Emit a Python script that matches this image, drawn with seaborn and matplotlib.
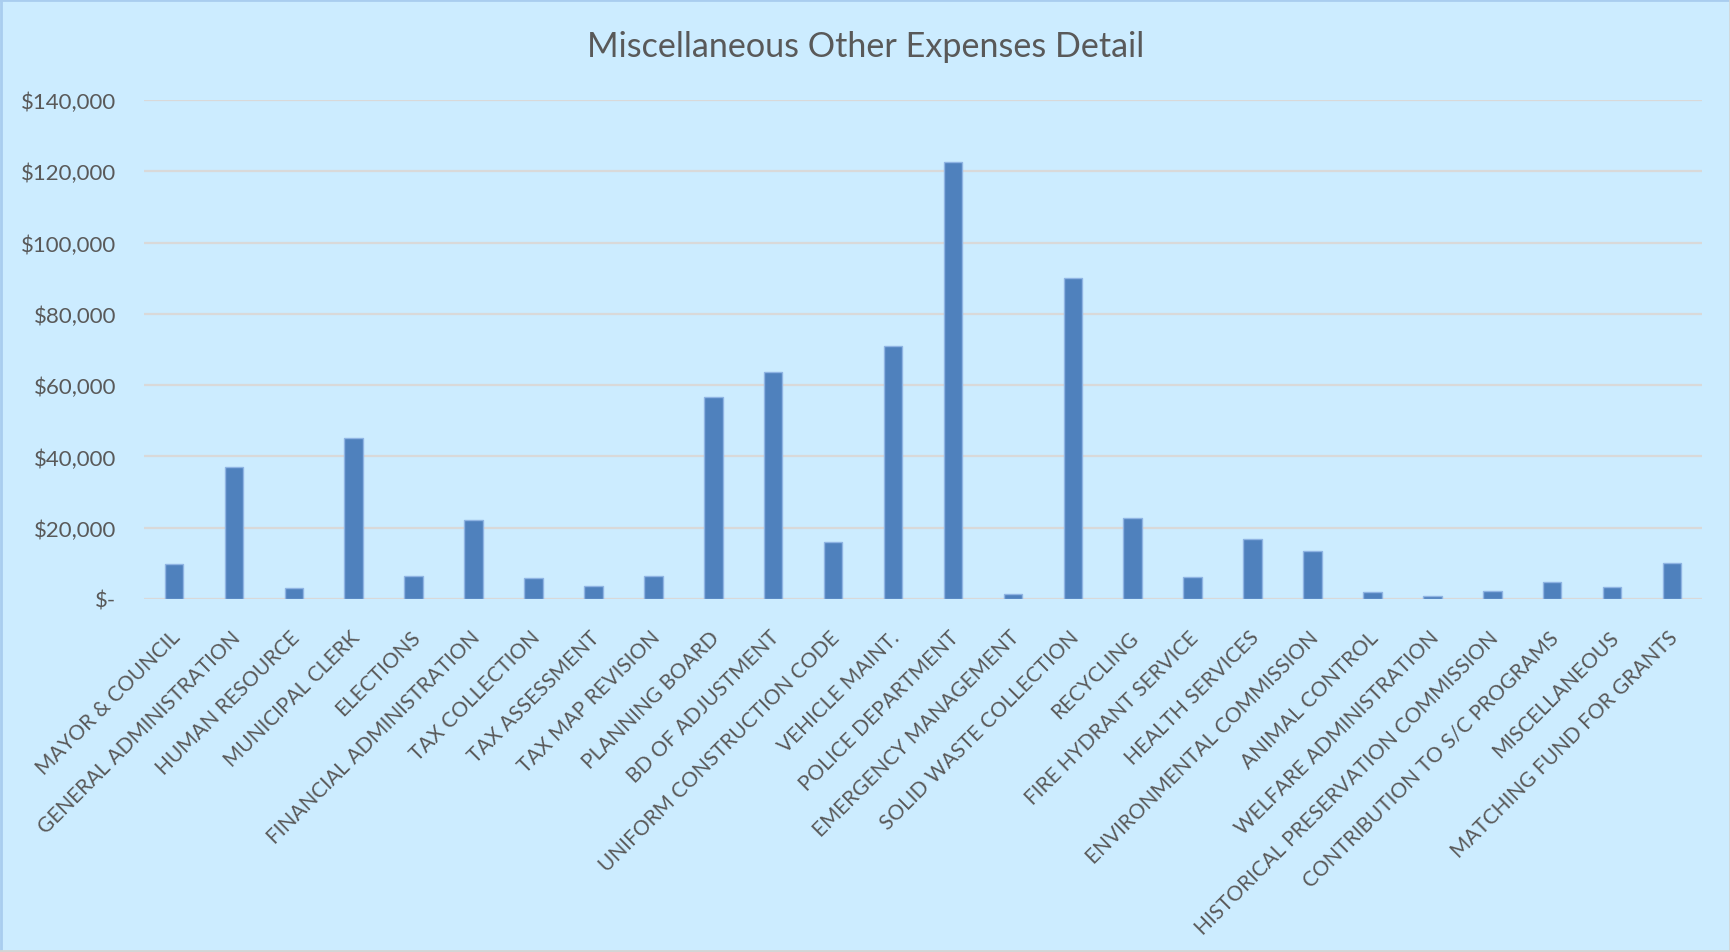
import matplotlib
matplotlib.use("Agg")
import matplotlib.pyplot as plt
from matplotlib.ticker import FuncFormatter, MultipleLocator
from matplotlib.lines import Line2D
from matplotlib.transforms import ScaledTranslation
import seaborn as sns
import pandas as pd

departments = [
    "MAYOR & COUNCIL", "GENERAL ADMINISTRATION", "HUMAN RESOURCE", "MUNICIPAL CLERK",
    "ELECTIONS", "FINANCIAL ADMINISTRATION", "TAX COLLECTION", "TAX ASSESSMENT",
    "TAX MAP REVISION", "PLANNING BOARD", "BD OF ADJUSTMENT", "UNIFORM CONSTRUCTION CODE",
    "VEHICLE MAINT.", "POLICE DEPARTMENT", "EMERGENCY MANAGEMENT", "SOLID WASTE COLLECTION",
    "RECYCLING", "FIRE HYDRANT SERVICE", "HEALTH SERVICES", "ENVIRONMENTAL COMMISSION",
    "ANIMAL CONTROL", "WELFARE ADMINISTRATION", "HISTORICAL PRESERVATION COMMISSION",
    "CONTRIBUTION TO S/C PROGRAMS", "MISCELLANEOUS", "MATCHING FUND FOR GRANTS",
]
expenses = [
    9850, 37050, 3100, 45200,
    6550, 22150, 5950, 3700,
    6550, 56750, 63650, 16100,
    70950, 122500, 1400, 90000,
    22650, 6050, 16750, 13550,
    2100, 850, 2350,
    4650, 3300, 10050,
]
title_text = "Miscellaneous Other Expenses Detail"

df = pd.DataFrame({"department": departments, "expense": expenses})

BG = "#CCECFF"
BAR = "#4F81BD"
TEXT = "#595959"
GRID = "#D9D9D9"

sns.set_theme(style="white")
plt.rcParams["font.family"] = ["Lato", "DejaVu Sans"]

fig = plt.figure(figsize=(17.31, 9.53), dpi=100, facecolor=BG)
ax = fig.add_axes([144 / 1731, 1 - 600 / 953, 1558 / 1731, 499 / 953])
ax.set_facecolor(BG)

sns.barplot(data=df, x="department", y="expense", color=BAR, saturation=1,
            width=0.31, edgecolor="#8FB4E3", linewidth=1.0, ax=ax, zorder=3)

ax.set_xlim(-0.5, len(departments) - 0.5)
ax.set_ylim(0, 140000)
ax.yaxis.set_major_locator(MultipleLocator(20000))
ax.yaxis.set_major_formatter(
    FuncFormatter(lambda v, _: "$-" if v == 0 else f"${v:,.0f}"))
ax.grid(axis="y", color=GRID, linewidth=1.6, zorder=0)
ax.grid(axis="x", visible=False)
for side in ["top", "right", "left", "bottom"]:
    ax.spines[side].set_visible(False)
ax.axhline(0, color=GRID, linewidth=1.8, zorder=2)

ax.set_xlabel("")
ax.set_ylabel("")
ax.tick_params(axis="y", length=0, pad=20, labelsize=16, labelcolor=TEXT)
ax.tick_params(axis="x", length=0, pad=20, labelsize=15, labelcolor=TEXT)
shift = ScaledTranslation(-4 / 100, 0, fig.dpi_scale_trans)
for lbl in ax.get_xticklabels():
    lbl.set_rotation(45)
    lbl.set_ha("right")
    lbl.set_va("top")
    lbl.set_rotation_mode("anchor")
    lbl.set_transform(lbl.get_transform() + shift)

fig.text(0.5, 1 - 47 / 953, title_text, ha="center", va="center",
         fontsize=24.6, color=TEXT)

# thin chart-area frame
fig.add_artist(Line2D([0.0008, 0.0008], [0, 1], transform=fig.transFigure,
                      color="#A9CDEF", linewidth=2))
fig.add_artist(Line2D([0, 1], [0.999, 0.999], transform=fig.transFigure,
                      color="#A9CDEF", linewidth=2))
fig.add_artist(Line2D([0.9992, 0.9992], [0, 1], transform=fig.transFigure,
                      color="#D4D4D4", linewidth=2))
fig.add_artist(Line2D([0, 1], [0.001, 0.001], transform=fig.transFigure,
                      color="#D4D4D4", linewidth=2))

fig.savefig("out.png", dpi=100, facecolor=BG)
